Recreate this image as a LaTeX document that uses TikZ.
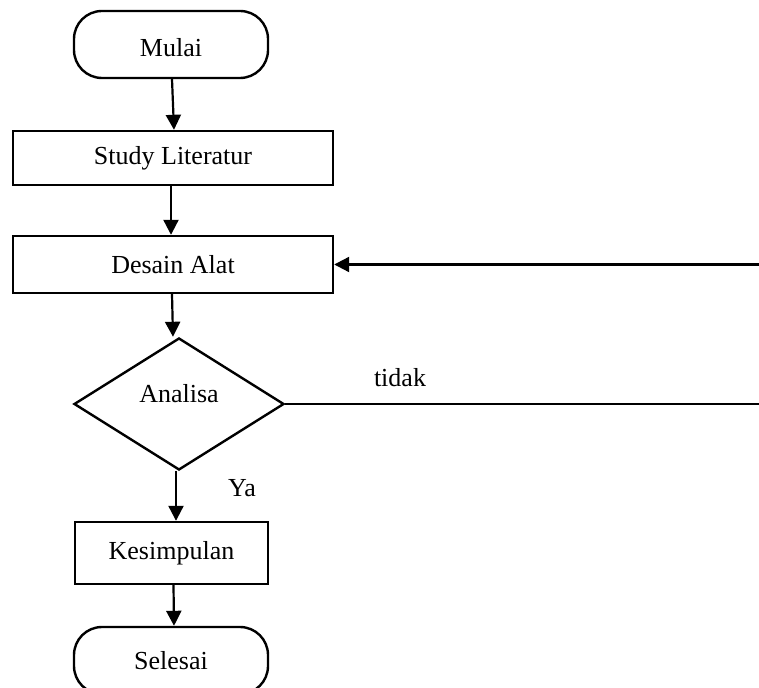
\documentclass[tikz,border=0pt]{standalone}
\usepackage{fontspec}
\setmainfont{Liberation Serif}
\usetikzlibrary{shapes.geometric,arrows.meta}
\begin{document}
\begin{tikzpicture}[x=0.5pt,y=-0.5pt,
  every node/.style={font=\fontsize{13}{15}\selectfont},
  box/.style={draw,line width=1.2pt,inner sep=0pt},
  term/.style={box,rounded corners=14pt},
  dec/.style={box,diamond},
  conn/.style={line width=1.1pt,-{Triangle[length=7.5pt,width=7.5pt]}},
  plain/.style={line width=1.1pt}]
\useasboundingbox (0,0) rectangle (759,688);
\clip (0,0) rectangle (759,688);
\node[term,minimum width=97pt,minimum height=33.5pt,text height=12pt,text depth=0.2pt] (mulai) at (171,44.5) {Mulai};
\node[box,minimum width=160pt,minimum height=27pt] (study) at (173,158) {Study Literatur};
\node[box,minimum width=160pt,minimum height=28.5pt] (desain) at (173,264.5) {Desain Alat};
\node[dec,minimum width=105pt,minimum height=66pt,text height=9pt,text depth=10pt] (analisa) at (179,404) {Analisa};
\node[box,minimum width=96.5pt,minimum height=31pt] (kesim) at (171.5,553) {Kesimpulan};
\node[term,minimum width=97pt,minimum height=33.5pt] (selesai) at (171,660.5) {Selesai};
\coordinate (fbtop) at (759,264.5);
\coordinate (fbbot) at (759,404);
\node (tidak) at (400,378) {tidak};
\node (ya) at (242,488) {Ya};
\draw[conn] ([xshift=0.5pt]mulai.south) -- ([xshift=0.5pt]study.north);
\draw[conn] ([xshift=-1pt]study.south) -- ([xshift=-1pt]desain.north);
\draw[conn] ([xshift=-0.5pt]desain.south) -- ([xshift=-3pt]analisa.north);
\draw[conn] ([xshift=-1.5pt]analisa.south) -- ([xshift=2.25pt]kesim.north);
\draw[conn] ([xshift=1pt]kesim.south) -- ([xshift=1.5pt]selesai.north);
\draw[plain] (analisa.east) -- (fbbot);
\draw[conn] (fbtop) -- (desain.east);
\end{tikzpicture}
\end{document}
